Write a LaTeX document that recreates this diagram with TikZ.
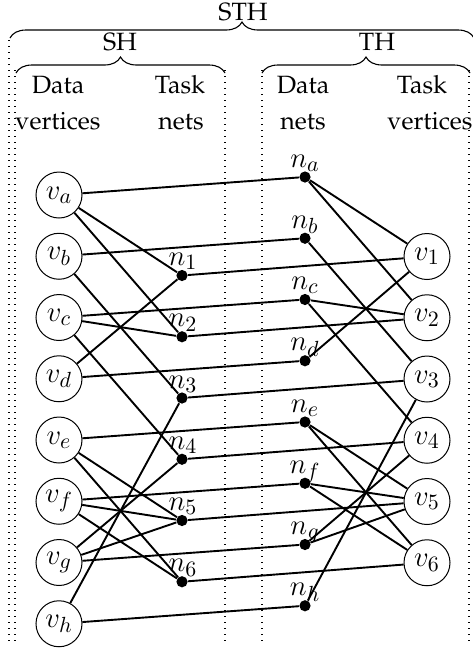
\documentclass[tikz,border=0pt]{standalone}
\usepackage[T1]{fontenc}
\usetikzlibrary{decorations.pathreplacing}
\renewcommand{\rmdefault}{ppl}
\begin{document}
\begin{tikzpicture}[x=0.5pt,y=-0.5pt,
  font=\fontsize{12.5}{15}\selectfont,
  vert/.style={circle,draw,line width=0.5pt,minimum size=23pt,inner sep=0pt,font=\fontsize{15}{18}\selectfont},
  net/.style={circle,fill,inner sep=0pt,minimum size=5.6pt},
  netlbl/.style={anchor=base,inner sep=0pt,font=\fontsize{15}{18}\selectfont},
  edge/.style={line width=0.95pt},
  guide/.style={line width=0.6pt,dash pattern=on 0.6pt off 2.4pt},
  brc/.style={decorate,decoration={brace,amplitude=8pt},line width=0.55pt},
  head/.style={anchor=base,inner sep=0pt}]
\useasboundingbox (0,0) rectangle (472,654);

% column separators
\draw[guide] (9,40) -- (9,645);
\draw[guide] (15,70) -- (15,645);
\draw[guide] (225,70) -- (225,645);
\draw[guide] (262,70) -- (262,645);
\draw[guide] (469,70) -- (469,645);

% braces and their titles
\coordinate (sthL) at (10,38);
\coordinate (sthR) at (474,38);
\draw[brc] (sthL) -- (sthR);
\node[head] (sth) at (243,20) {STH};
\coordinate (shL) at (16,73);
\coordinate (shR) at (225,73);
\draw[brc] (shL) -- (shR);
\node[head] (sh) at (120,50) {SH};
\coordinate (thL) at (262,73);
\coordinate (thR) at (470,73);
\draw[brc] (thL) -- (thR);
\node[head] (th) at (377,50) {TH};

% column headings
\node[head] (h1a) at (58,93) {Data};
\node[head] (h1b) at (58,129) {vertices};
\node[head] (h2a) at (180,93) {Task};
\node[head] (h2b) at (181,129) {nets};
\node[head] (h3a) at (303,93) {Data};
\node[head] (h3b) at (303,129) {nets};
\node[head] (h4a) at (422,93) {Task};
\node[head] (h4b) at (430,129) {vertices};

% data vertices and data nets
\foreach \l [count=\k from 0] in {a,...,h} {
  \node[vert] (v\l) at (59,195+61.25*\k) {$v_\l$};
  \node[net] (d\l) at (305,177+61.25*\k) {};
  \node[netlbl] (dl\l) at (305,167+61.25*\k) {$n_\l$};
}
% task nets and task vertices
\foreach \i [count=\k from 0] in {1,...,6} {
  \node[net] (t\i) at (182,275.5+61.25*\k) {};
  \node[netlbl] (tl\i) at (183,265.5+61.25*\k) {$n_\i$};
  \node[vert] (r\i) at (427,256.5+61.25*\k) {$v_\i$};
}

% pins
\foreach \l in {a,...,h} \draw[edge] (v\l) -- (d\l);
\foreach \i in {1,...,6} \draw[edge] (t\i) -- (r\i);
\foreach \a/\b in {va/t1,va/t2,vb/t3,vc/t2,vc/t4,vd/t1,ve/t5,ve/t6,vf/t5,vf/t6,vg/t4,vg/t5,vh/t3,
                   da/r1,da/r2,db/r3,dc/r2,dc/r4,dd/r1,de/r5,de/r6,df/r5,df/r6,dg/r4,dg/r5,dh/r3}
  \draw[edge] (\a) -- (\b);
\end{tikzpicture}
\end{document}
